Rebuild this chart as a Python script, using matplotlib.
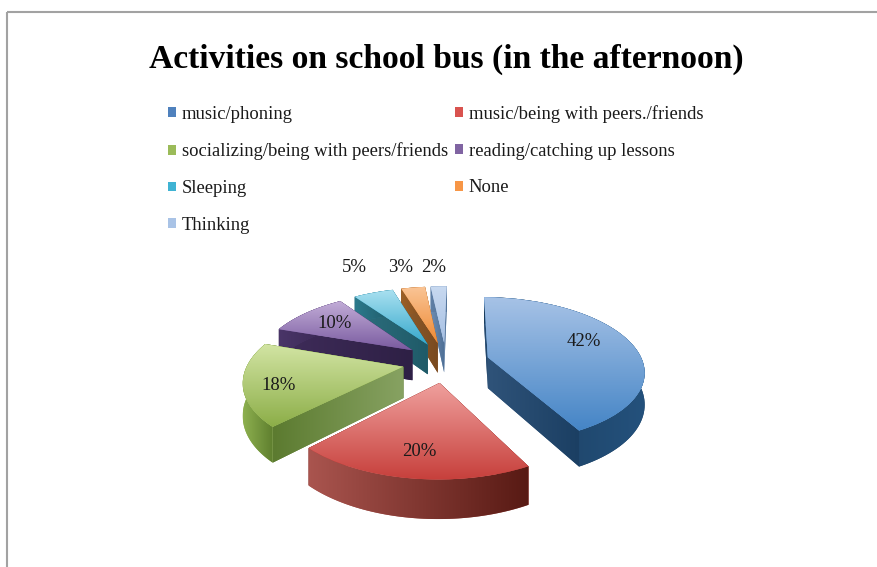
import numpy as np
import matplotlib
matplotlib.use('Agg')
from matplotlib import pyplot as plt
from matplotlib import transforms as mtransforms
from matplotlib.colors import to_rgb
from matplotlib.patches import Patch, Polygon, Rectangle

categories = ['music/phoning', 'music/being with peers./friends',
              'socializing/being with peers/friends', 'reading/catching up lessons',
              'Sleeping', 'None', 'Thinking']
values = [42, 20, 18, 10, 5, 3, 2]

# top surface colours, back to front of the slice
top_back = ['#a6c2e6', '#ef9f9c', '#d2e4a3', '#c3aed8', '#a8e0f0', '#fac596', '#c8d9f0']
top_front = ['#4585c6', '#c63e3a', '#8cae48', '#7a5ba0', '#35a8cc', '#ee8a35', '#a6c0e4']
# outer rim, left and right
rim_left = ['#1a3c5c', '#a9544e', '#8db04f', '#4a3568', '#2c7a8c', '#9c6028', '#5f7fa6']
rim_right = ['#24517c', '#581a14', '#5f7f2f', '#35254e', '#1f5a68', '#7d4c20', '#4d6e94']
# cut faces, left and right
cut_left = ['#2f5379', '#7a2d28', '#5c7b30', '#3f2c5a', '#2d6f7e', '#8f5c2b', '#6d8cb2']
cut_right = ['#1b3f63', '#7a2d28', '#87a262', '#2e2045', '#1f5a68', '#7a4a20', '#4d6e94']
legend_colors = ['#4f81bd', '#d9534f', '#9bbb59', '#8064a2', '#3fb3d3', '#f79646', '#a9c3e6']

label_text = ['42%', '20%', '18%', '10%', '5%', '3%', '2%']
label_xy = [(584, 341), (419, 451), (279, 385), (335, 324), (354, 268), (401, 267), (434, 267)]

CX, CY = 446, 362
SX, SY = 155, 72
TILT = 0.17
DEPTH = 31


def project(u, v, z=0):
    s = 1 / (1 + TILT * v)
    return CX + SX * u * s, CY - SY * v * s + z * s


class Perspective(mtransforms.Transform):
    input_dims = output_dims = 2

    def transform_non_affine(self, xy):
        xy = np.asarray(xy)
        return np.column_stack(project(xy[:, 0], xy[:, 1]))


def gradient_image(xs, ys, c0, c1, vertical, z):
    t = np.linspace(0, 1, 64)[:, None]
    arr = (1 - t) * np.array(to_rgb(c0)) + t * np.array(to_rgb(c1))
    arr = arr[:, None, :] if vertical else arr[None, :, :]
    return ax.imshow(arr, extent=(min(xs), max(xs), max(ys), min(ys)), aspect='auto',
                     interpolation='bilinear', zorder=z)


def face(xs, ys, c0, c1, z):
    verts = np.column_stack([xs, ys])
    ax.add_patch(Polygon(verts, fc=c0, ec='none', zorder=z))
    im = gradient_image(xs, ys, c0, c1, False, z + 0.1)
    im.set_clip_path(Polygon(verts, transform=ax.transData))


fig = plt.figure(figsize=(8.77, 5.67), dpi=100)
ax = fig.add_axes([0, 0, 1, 1])

wedges, _ = ax.pie(values, explode=[0.28] * len(values), startangle=89, counterclock=False)

persp = Perspective() + ax.transData
front_order = np.argsort([-w.center[1] for w in wedges])

for rank, i in enumerate(front_order):
    w = wedges[i]
    z = 10 + rank * 10
    x0, y0 = w.center
    t = np.radians(np.linspace(w.theta1, w.theta2, 80))
    u, v = x0 + np.cos(t), y0 + np.sin(t)
    tx, ty = project(u, v)
    bx, by = project(u, v, DEPTH)
    ax_, ay_ = project(x0, y0)
    abx, aby = project(x0, y0, DEPTH)

    # cut faces, the one further back first
    ends = sorted([0, -1], key=lambda k: ty[k])
    for n, k in enumerate(ends):
        face([ax_, tx[k], bx[k], abx], [ay_, ty[k], by[k], aby], cut_left[i], cut_right[i], z + n)
    face(np.r_[tx, bx[::-1]], np.r_[ty, by[::-1]], rim_left[i], rim_right[i], z + 3)

    # top surface is the pie wedge itself, put through the perspective
    w.set_transform(persp)
    w.set_facecolor(top_front[i])
    w.set_edgecolor('none')
    w.set_zorder(z + 5)
    px, py = project(*w.get_path().vertices.T)
    im = gradient_image(px, py, top_back[i], top_front[i], True, z + 5.1)
    im.set_clip_path(w.get_path(), persp)

serif = 'Liberation Serif'
for txt, (lx, ly) in zip(label_text, label_xy):
    ax.text(lx, ly, txt, ha='center', va='center', fontsize=13.5, family=serif,
            color='#1a1a1a', zorder=200)

ax.text(446, 59, 'Activities on school bus (in the afternoon)', ha='center', va='center',
        fontsize=24.2, fontweight='bold', family=serif, color='black')

# legend fills column by column, the reference reads row by row
legend_order = [0, 2, 4, 6, 1, 3, 5]
handles = [Patch(fc=legend_colors[k], ec='none') for k in legend_order]
ax.legend(handles, [categories[k] for k in legend_order], ncols=2, loc='upper left',
          bbox_to_anchor=(168 / 877, 1 - 105 / 567),
          frameon=False, handlelength=0.42, handleheight=0.42, handletextpad=0.32,
          columnspacing=0.38, labelspacing=1.06, borderpad=0, borderaxespad=0,
          prop={'family': serif, 'size': 13.4}, labelcolor='#1a1a1a')

# grey picture frame, runs off the right and bottom
ax.add_patch(Rectangle((7, 12), 900, 600, fc='none', ec='#a2a2a2', lw=1.5, zorder=300))

ax.set_aspect('auto')
ax.set_xlim(0, 877)
ax.set_ylim(567, 0)
ax.axis('off')

fig.savefig('out.png', dpi=100)
